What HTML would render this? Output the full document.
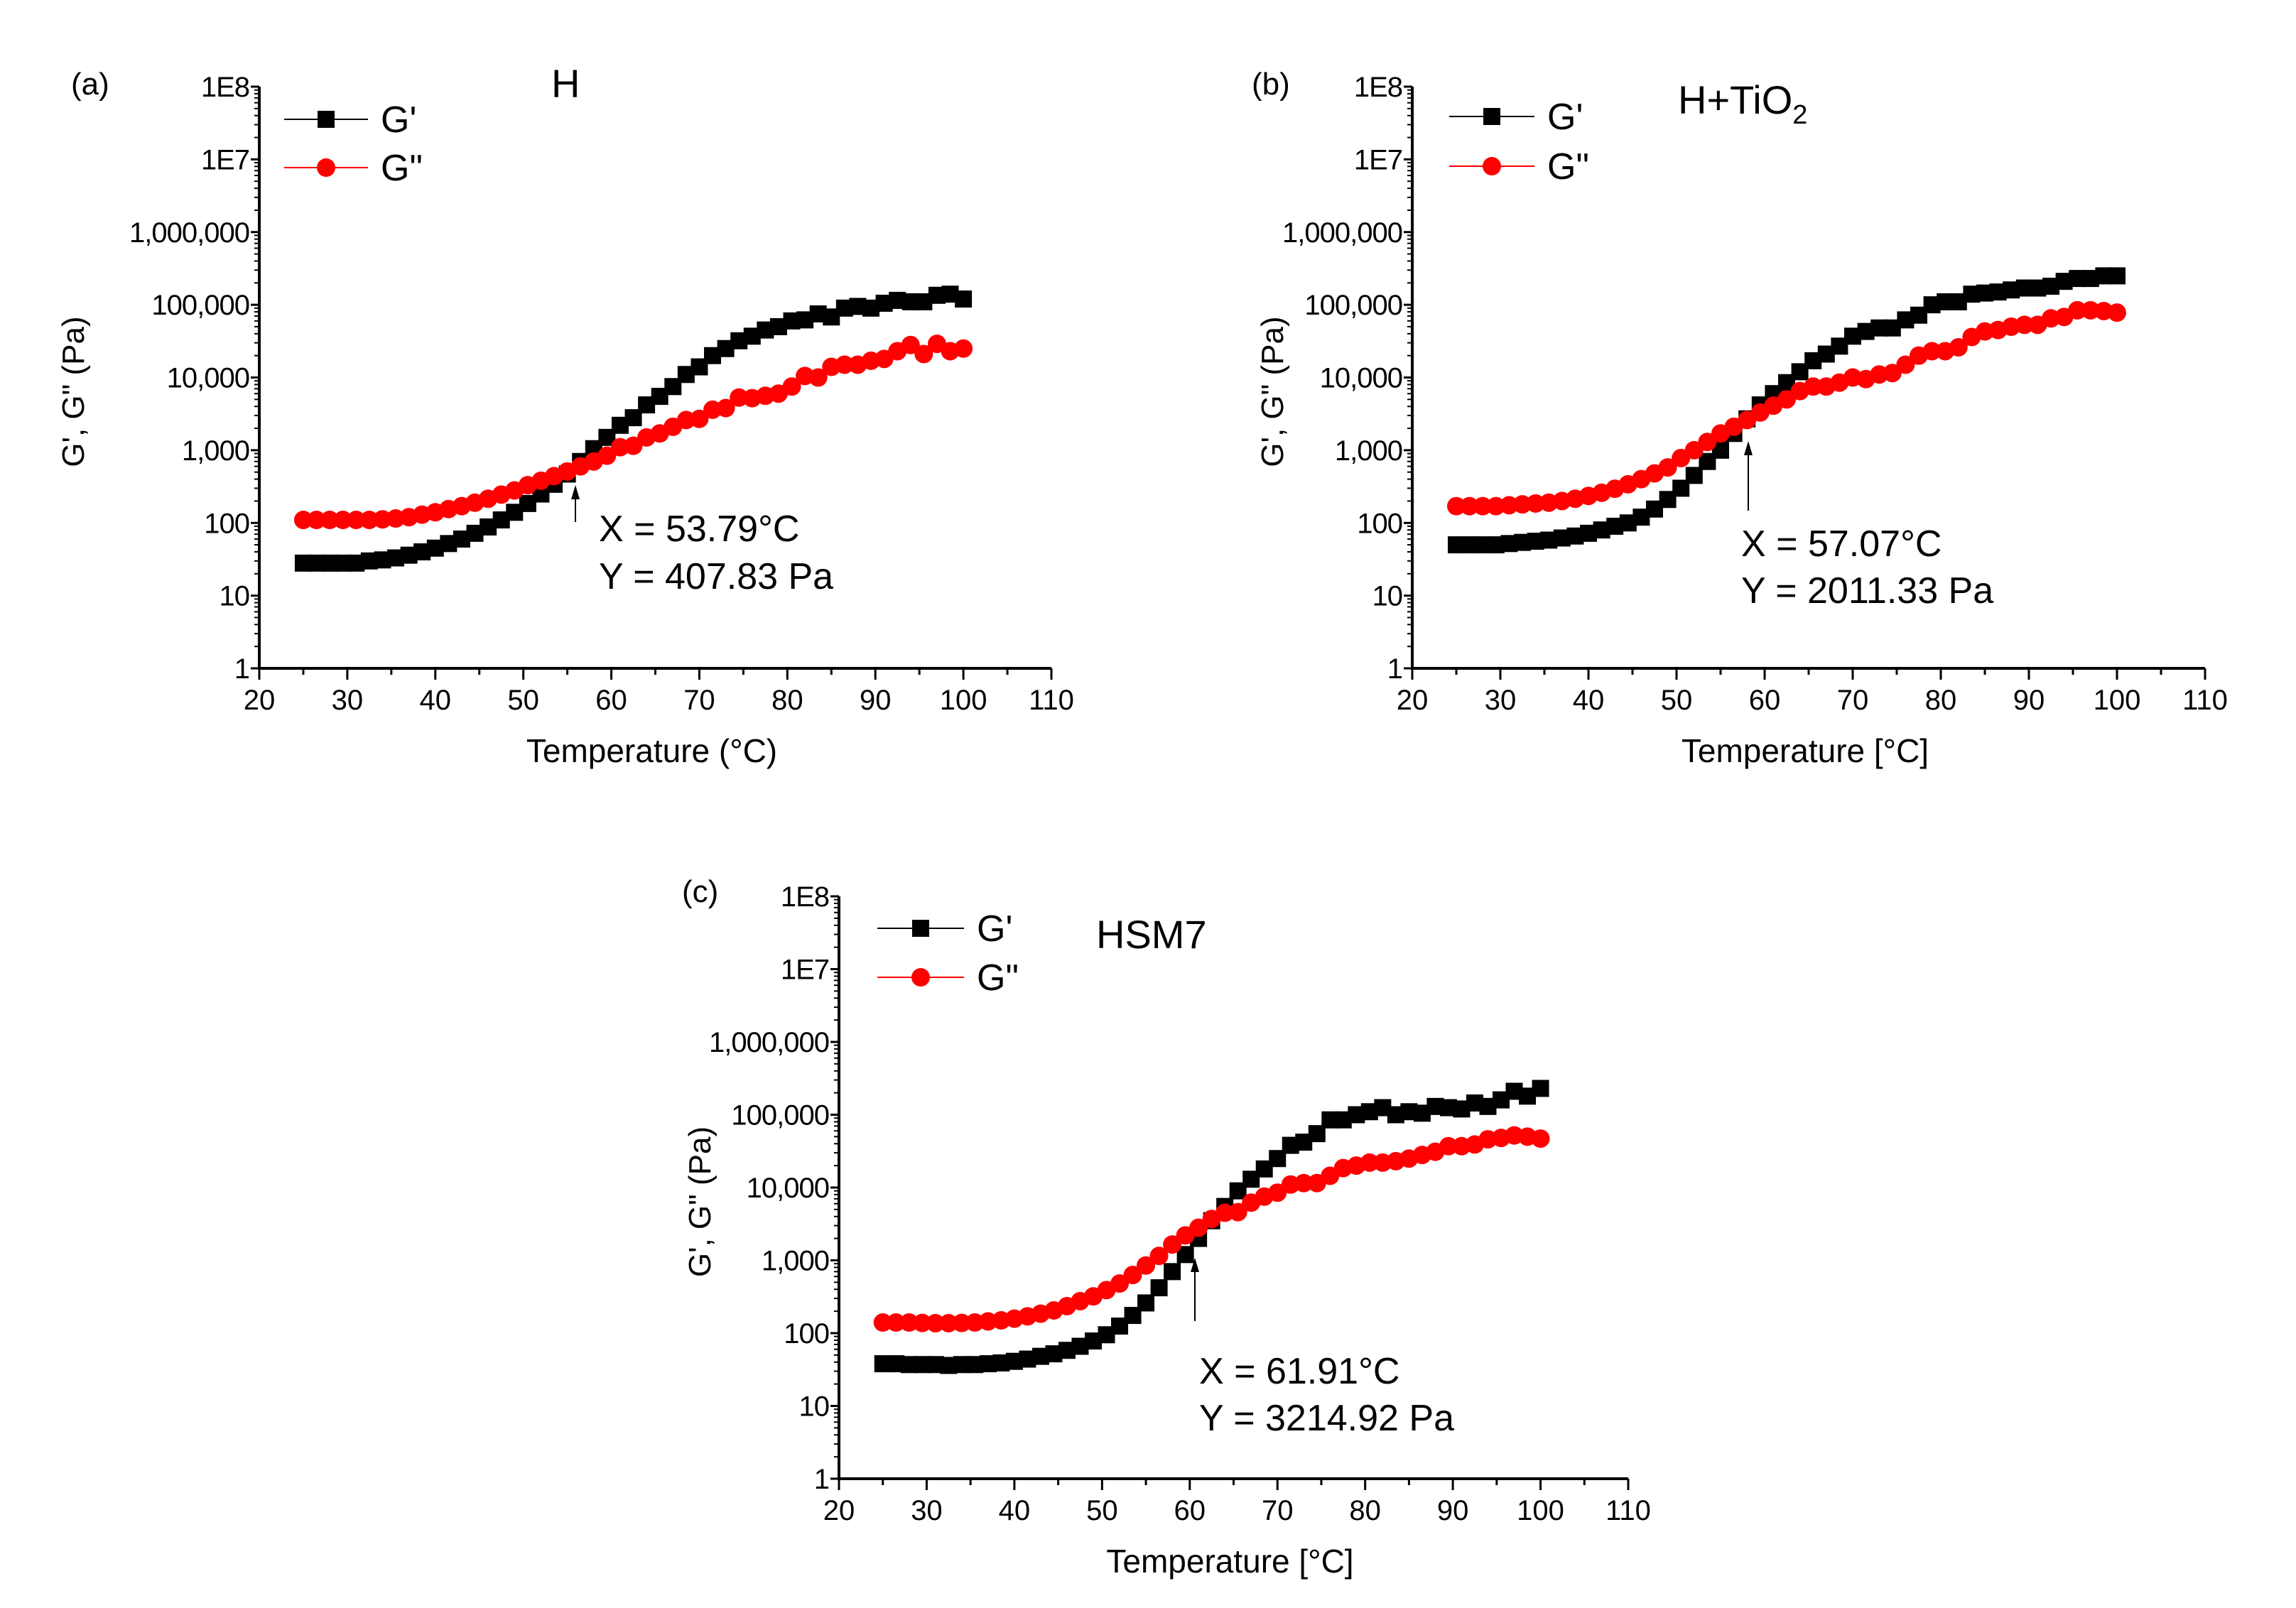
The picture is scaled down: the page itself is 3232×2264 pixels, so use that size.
<!DOCTYPE html>
<html><head><meta charset="utf-8">
<style>
html,body{margin:0;padding:0;background:#fff;}
svg{display:block;}
text{font-family:"Liberation Sans",sans-serif;fill:#000;}
.narrow{font-family:"Liberation Sans Narrow","Liberation Sans",sans-serif;}
</style></head>
<body>
<svg id="fig" xmlns="http://www.w3.org/2000/svg" width="3232" height="2264" viewBox="0 0 3232 2264"></svg>
<script>
// ---- data ----
const temps = [25,26.5,28,29.5,31,32.5,34,35.5,37,38.5,40,41.5,43,44.5,46,47.5,49,50.5,52,53.5,55,56.5,58,59.5,61,62.5,64,65.5,67,68.5,70,71.5,73,74.5,76,77.5,79,80.5,82,83.5,85,86.5,88,89.5,91,92.5,94,95.5,97,98.5,100];
const xTicks = [20,30,40,50,60,70,80,90,100,110];
const yTickLabels = ["1","10","100","1,000","10,000","100,000","1,000,000","1E7","1E8"];
const gpA  = [28,28,28,28,28,30,31,33,36,40,45,52,60,72,88,110,140,185,250,340,470,700,1050,1500,2200,2800,4200,5500,7500,11000,14000,20000,25000,32000,37000,45000,50000,60000,62000,75000,68000,90000,95000,90000,105000,115000,110000,110000,135000,140000,120000];
const gppA = [110,110,110,110,110,110,112,115,120,130,140,155,170,190,215,245,280,330,380,440,510,600,700,840,1100,1150,1500,1700,2100,2600,2700,3600,3800,5300,5200,5600,6000,7500,10500,10000,14000,15000,15000,17000,18000,23000,28000,21000,29000,23000,25000];
const gpB  = [50,50,50,50,52,54,56,58,62,66,72,80,90,100,120,155,210,300,450,700,1000,1700,2700,4200,6000,8500,12000,17000,21000,27000,37000,43000,48000,48000,62000,72000,100000,110000,110000,140000,145000,150000,160000,170000,170000,180000,210000,230000,230000,250000,250000];
const gppB = [170,170,170,170,175,180,185,190,200,215,235,260,295,340,400,480,580,780,1000,1300,1700,2100,2600,3300,4100,5000,6500,7500,7500,8500,10000,9500,11000,11500,15000,20000,23000,23000,26000,36000,43000,45000,50000,53000,53000,65000,68000,84000,84000,82000,78000];
const gpC  = [38,38,37,37,37,36,37,37,38,39,41,44,48,52,58,66,78,95,125,175,260,420,700,1200,2000,3500,5500,9000,13000,18000,25000,38000,42000,55000,85000,85000,100000,110000,125000,100000,110000,105000,130000,125000,120000,145000,130000,160000,210000,180000,230000];
const gppC = [140,140,140,138,137,137,138,140,145,150,158,170,185,205,235,275,320,390,480,630,850,1150,1650,2200,2800,3700,4500,4600,6200,7500,8500,11000,11500,11500,14500,18500,20000,22000,22000,23000,25000,28000,31000,37000,37000,39000,46000,48000,52000,50000,47000];

const NS="http://www.w3.org/2000/svg";
const svg=document.getElementById('fig');
function el(tag,attrs,parent,txt){const e=document.createElementNS(NS,tag);for(const k in attrs)e.setAttribute(k,attrs[k]);if(txt!==undefined)e.textContent=txt;(parent||svg).appendChild(e);return e;}

const panels=[
 {id:'a',x0:365,x1:1480,yTop:122,yBot:941,gp:gpA,gpp:gppA,label:'(a)',lx:100,ly:133,
  legX:400,legX2:518,legY1:168,legY2:236,
  xtitle:'Temperature (°C)',ytx:118,
  arrow:[810,735,810,683],ann:[843,762,829,'X = 53.79°C','Y = 407.83 Pa']},
 {id:'b',x0:1988,x1:3104,yTop:122,yBot:941,gp:gpB,gpp:gppB,label:'(b)',lx:1762,ly:133,
  legX:2040,legX2:2160,legY1:164,legY2:234,
  xtitle:'Temperature [°C]',ytx:1806,
  arrow:[2461,719,2461,621],ann:[2451,783,849,'X = 57.07°C','Y = 2011.33 Pa']},
 {id:'c',x0:1181,x1:2292,yTop:1262,yBot:2082,gp:gpC,gpp:gppC,label:'(c)',lx:960,ly:1270,
  legX:1235,legX2:1357,legY1:1307,legY2:1376,
  xtitle:'Temperature [°C]',ytx:1000,
  arrow:[1682,1860,1682,1771],ann:[1688,1948,2014,'X = 61.91°C','Y = 3214.92 Pa']}
];

panels.forEach(p=>{
  const g=el('g',{});
  
  
  const X=t=>p.x0+(t-20)/90*(p.x1-p.x0);
  const Y=v=>p.yBot-Math.log10(v)/8*(p.yBot-p.yTop);
  const ax=el('path',{d:`M${p.x0},${p.yTop}V${p.yBot}H${p.x1}`,fill:'none',stroke:'#000','stroke-width':4},g);
  
  
  xTicks.forEach(t=>{
    el('line',{x1:X(t),x2:X(t),y1:p.yBot,y2:p.yBot+16,stroke:'#000','stroke-width':3},g);
    if(t<110) el('line',{x1:X(t+5),x2:X(t+5),y1:p.yBot,y2:p.yBot+9,stroke:'#000','stroke-width':3},g);
    const tl=el('text',{x:X(t),y:p.yBot+58,'font-size':40,'text-anchor':'middle',class:'narrow'},g,String(t));
    
    
  });
  yTickLabels.forEach((lab,i)=>{
    const yy=Y(Math.pow(10,i));
    el('line',{x1:p.x0-12,x2:p.x0,y1:yy,y2:yy,stroke:'#000','stroke-width':3},g);
    if(i<8){for(let m=2;m<10;m++){const ym=Y(m*Math.pow(10,i));el('line',{x1:p.x0-7,x2:p.x0,y1:ym,y2:ym,stroke:'#000','stroke-width':2},g);}}
    const tl=el('text',{x:p.x0-14,y:yy+14,'font-size':40,'text-anchor':'end',class:'narrow','letter-spacing':'-1'},g,lab);
    
    
  });
  const xt=el('text',{x:(p.x0+p.x1)/2-5,y:p.yBot+132,'font-size':46,'text-anchor':'middle',class:'narrow'},g,p.xtitle);
  
  
  const yc=(p.yTop+p.yBot)/2+20;
  const yt=el('text',{x:p.ytx,y:yc,'font-size':44,'text-anchor':'middle',transform:`rotate(-90 ${p.ytx} ${yc})`},g,'G\', G" (Pa)');
  
  
  const pl=el('text',{x:p.lx,y:p.ly,'font-size':44},g,p.label);
  
  
  const n=Math.min(temps.length,p.gp.length,p.gpp.length);
  let d1='',d2='';
  for(let i=0;i<n;i++){d1+=(i?'L':'M')+X(temps[i])+','+Y(p.gp[i]);d2+=(i?'L':'M')+X(temps[i])+','+Y(p.gpp[i]);}
  const l1=el('path',{d:d1,fill:'none',stroke:'#000','stroke-width':2},g);
  
  
  const l2=el('path',{d:d2,fill:'none',stroke:'#f00','stroke-width':2},g);
  
  
  for(let i=0;i<n;i++){
    const s=el('rect',{x:X(temps[i])-12,y:Y(p.gp[i])-12,width:24,height:24,fill:'#000'},g);
    
    
  }
  for(let i=0;i<n;i++){
    const c=el('circle',{cx:X(temps[i]),cy:Y(p.gpp[i]),r:13,fill:'#f00'},g);
    
    
  }
  const lg=el('g',{},g);
  
  
  const mx=(p.legX+p.legX2)/2;
  el('line',{x1:p.legX,x2:p.legX2,y1:p.legY1,y2:p.legY1,stroke:'#000','stroke-width':2},lg);
  el('rect',{x:mx-12,y:p.legY1-12,width:24,height:24,fill:'#000'},lg);
  el('text',{x:p.legX2+18,y:p.legY1+18,'font-size':52,class:'narrow'},lg,"G'");
  el('line',{x1:p.legX,x2:p.legX2,y1:p.legY2,y2:p.legY2,stroke:'#f00','stroke-width':2},lg);
  el('circle',{cx:mx,cy:p.legY2,r:13,fill:'#f00'},lg);
  el('text',{x:p.legX2+18,y:p.legY2+18,'font-size':52,class:'narrow'},lg,'G"');
  const a=p.arrow;
  const ar=el('line',{x1:a[0],y1:a[1],x2:a[2],y2:a[3]+10,stroke:'#000','stroke-width':2},g);
  
  
  el('path',{d:`M${a[2]},${a[3]}l-6,20h12z`,fill:'#000'},g);
  const t1=el('text',{x:p.ann[0],y:p.ann[1],'font-size':52},g,p.ann[3]);
  
  
  const t2=el('text',{x:p.ann[0],y:p.ann[2],'font-size':52},g,p.ann[4]);
  
  
});
const tA=el('text',{x:776,y:137,'font-size':56},svg,'H');


const tB=el('text',{x:2362,y:160,'font-size':56},svg);


tB.appendChild(document.createTextNode('H+TiO'));
const sub=el('tspan',{'font-size':38,dy:14},tB,'2');
const tC=el('text',{x:1543,y:1335,'font-size':56},svg,'HSM7');


</script>
</body></html>
